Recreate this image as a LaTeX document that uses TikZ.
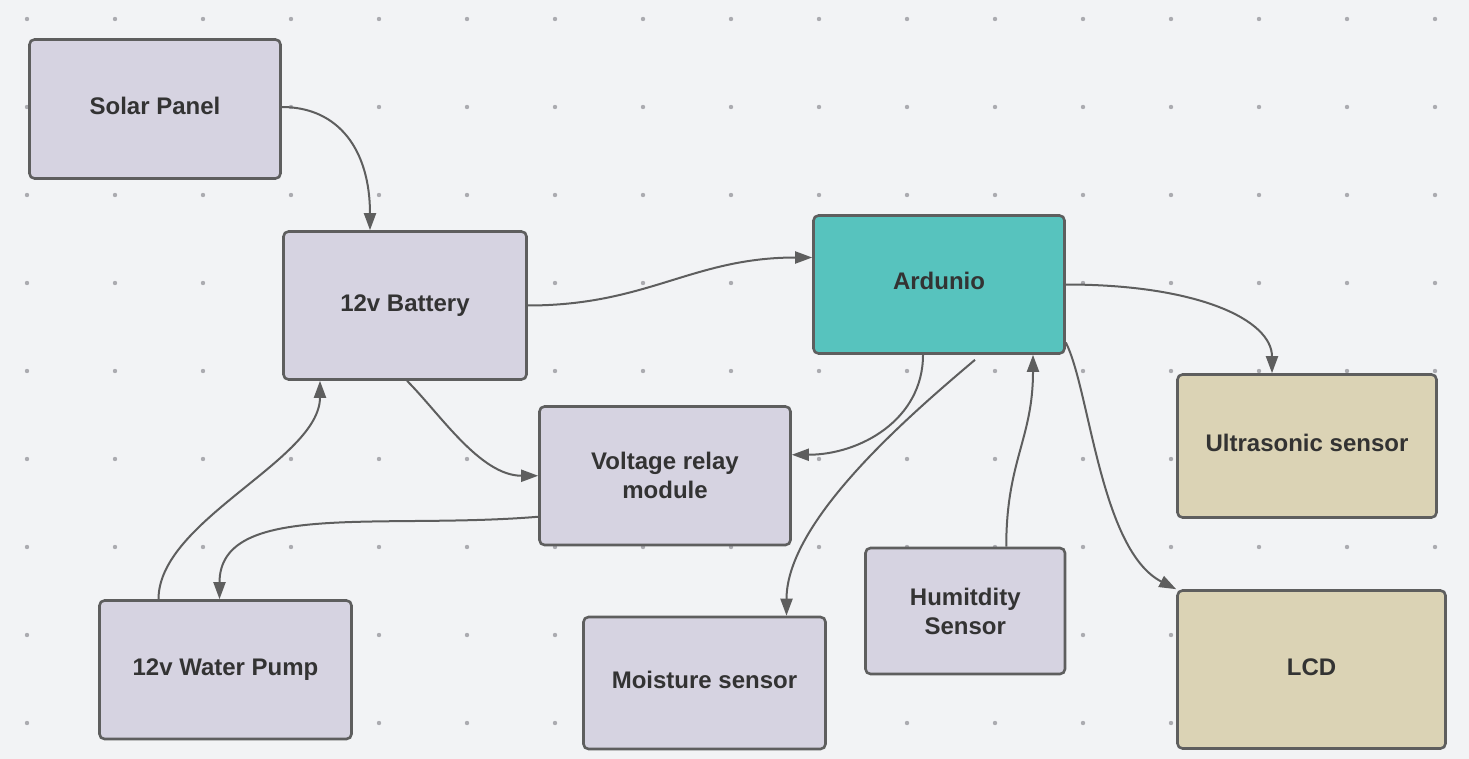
\documentclass[tikz,border=0pt]{standalone}
\usepackage{fontspec}
\setmainfont{Liberation Sans}
\usetikzlibrary{arrows.meta}
\definecolor{bg}{HTML}{F2F3F5}
\definecolor{dotc}{HTML}{ABABB0}
\definecolor{lav}{HTML}{D6D3E1}
\definecolor{teal}{HTML}{57C3BE}
\definecolor{tan}{HTML}{DBD3B5}
\definecolor{bordc}{HTML}{5E5E5E}
\definecolor{txt}{HTML}{333333}
\tikzset{
  box/.style={draw=bordc, line width=2.6pt, rounded corners=5pt, text=txt,
    font=\bfseries\fontsize{24}{29}\selectfont, inner sep=0pt},
  one/.style={text height=17pt, text depth=6pt},
  conn/.style={draw=bordc, line width=2pt, -{Triangle[length=17pt,width=12pt]}}
}
\begin{document}
\begin{tikzpicture}[x=1pt,y=-1pt]
\fill[bg] (0,0) rectangle (1469,759);
\useasboundingbox (0,0) rectangle (1469,759);
\foreach \i in {0,...,16} \foreach \j in {0,...,8}
  \fill[dotc] (27+88*\i,19+88*\j) circle[radius=2.2pt];

\node[box, one, fill=lav, minimum width=251pt, minimum height=139pt] (solar) at (155,109) {Solar Panel};
\node[box, one, fill=lav, minimum width=243pt, minimum height=148pt] (bat) at (405,305.5) {12v Battery};
\node[box, one, fill=teal, minimum width=251pt, minimum height=138pt] (ard) at (939,284.5) {Ardunio};
\node[box, align=center, fill=lav, minimum width=251pt, minimum height=138.5pt] (relay) at (665,475.75) {Voltage relay\\module};
\node[box, one, fill=tan, minimum width=259pt, minimum height=143pt] (ultra) at (1307,446) {Ultrasonic sensor};
\node[box, one, fill=lav, minimum width=252pt, minimum height=138.5pt] (pump) at (225.5,669.75) {12v Water Pump};
\node[box, one, fill=lav, minimum width=242pt, minimum height=132pt] (moist) at (704.5,683) {Moisture sensor};
\node[box, align=center, fill=lav, minimum width=199.5pt, minimum height=126pt] (humid) at (965.25,611) {Humitdity\\Sensor};
\node[box, one, fill=tan, minimum width=268pt, minimum height=158pt] (lcd) at (1311.5,669.5) {LCD};

\draw[conn] ([yshift=2pt]solar.east) .. controls +(57,0) and +(0,-80) .. ([xshift=-35pt]bat.north);
\draw[conn] (bat.east) .. controls +(120,0) and +(-120,0) .. ([yshift=27pt]ard.west);
\draw[conn] (ard.east) .. controls +(133,0) and +(0,-53) .. ([xshift=-35pt]ultra.north);
\draw[conn] ([xshift=-16pt]ard.south) .. controls +(0,65) and +(68,0) .. ([yshift=21pt]relay.east);
\draw[conn] ([xshift=36pt,yshift=-5pt]ard.south) .. controls +(-65,55) and +(0,-95) .. ([xshift=82pt]moist.north);
\draw[conn] ([xshift=41pt]humid.north) .. controls +(0,-86) and +(0,84) .. ([xshift=94pt]ard.south);
\draw[conn] ([yshift=-58pt]ard.east) .. controls +(24,47) and +(-76,-39) .. (lcd.north west);
\draw[conn] ([xshift=2pt]bat.south) .. controls +(33,33) and +(-58,0) .. (relay.west);
\draw[conn] ([xshift=-67pt]pump.north) .. controls +(0,-79) and +(0,79) .. ([xshift=-85pt]bat.south);
\draw[conn] ([yshift=-41pt]relay.west) .. controls +(-158,13) and +(0,-99) .. ([xshift=-6pt]pump.north);
\end{tikzpicture}
\end{document}
